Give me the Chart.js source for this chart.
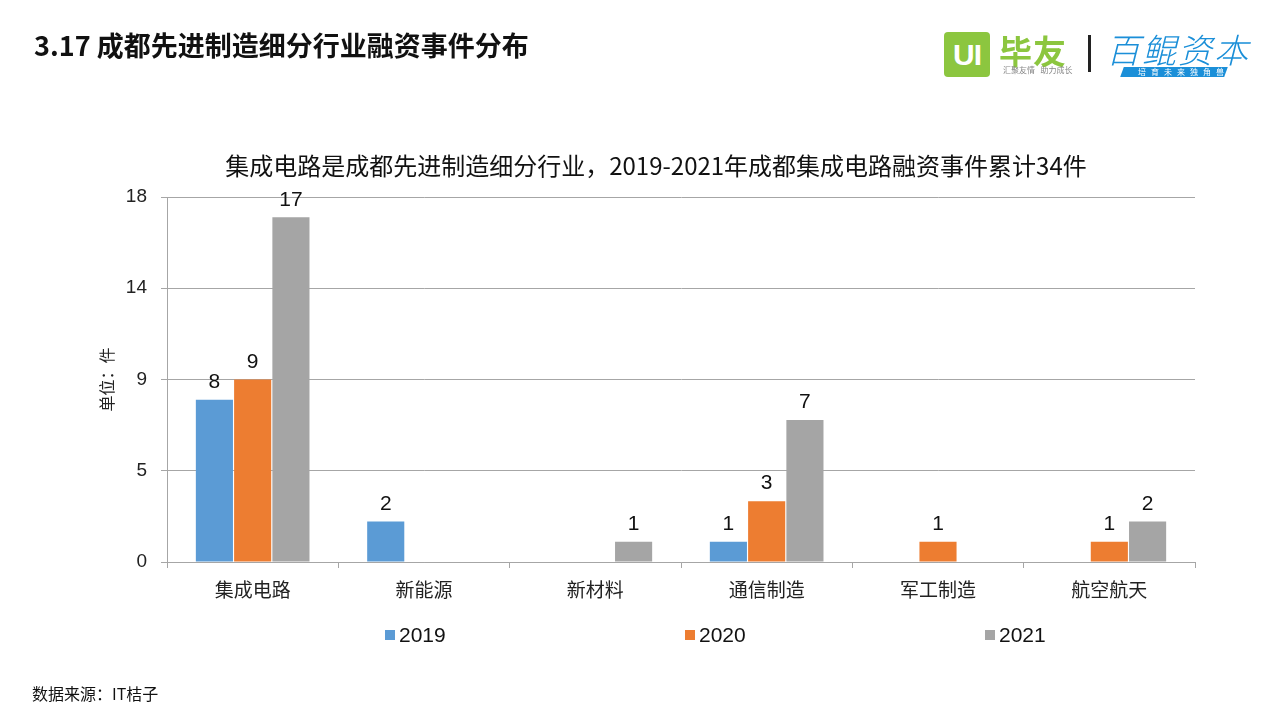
<!DOCTYPE html>
<html><head><meta charset="utf-8">
<script src="https://cdn.jsdelivr.net/npm/chart.js@4.4.1/dist/chart.umd.min.js"></script>
<style>
html,body{margin:0;padding:0;background:#fff;width:1280px;height:720px;overflow:hidden;}
#wrap{position:relative;width:1280px;height:720px;}
canvas{position:absolute;left:0;top:0;}
.t{position:absolute;white-space:nowrap;font-family:"Noto Sans CJK SC","Noto Sans",sans-serif;}
#pt{left:34px;top:25px;font-size:27px;font-weight:bold;color:#111;}
#st{left:656px;top:147px;transform:translateX(-50%);font-size:24px;color:#111;}
#src{left:32px;top:681px;font-size:16px;color:#111;}
</style></head>
<body><div id="wrap">
<canvas id="c" width="1280" height="720"></canvas>
<div class="t" id="pt">3.17 成都先进制造细分行业融资事件分布</div>
<div class="t" id="st">集成电路是成都先进制造细分行业，2019-2021年成都集成电路融资事件累计34件</div>
<div class="t" id="src">数据来源：IT桔子</div>
<!-- logos -->
<div style="position:absolute;left:944px;top:32px;width:46px;height:45px;background:#8cc63f;border-radius:4px;color:#fff;font:bold 30px 'Liberation Sans',sans-serif;text-align:center;line-height:45px;letter-spacing:-1px;">UI</div>
<div class="t" style="left:999px;top:26px;font-size:33px;font-weight:bold;color:#8cc63f;letter-spacing:1px;">毕友</div>
<div class="t" style="left:1003px;top:64px;font-size:8px;color:#888;">汇聚友情&nbsp;&nbsp;&nbsp;助力成长</div>
<div style="position:absolute;left:1088px;top:35px;width:3px;height:37px;background:#222;"></div>
<div class="t" style="left:1106px;top:24px;font-size:34px;color:#1b8fd8;font-style:italic;letter-spacing:2px;font-family:'Noto Sans CJK SC';font-weight:300;">百鲲资本</div>
<div style="position:absolute;left:1122px;top:67px;width:104px;height:10px;background:#1b8fd8;transform:skewX(-20deg);"></div>
<div class="t" style="left:1138px;top:66px;font-size:8px;line-height:12px;color:#fff;letter-spacing:5px;">培育未来独角兽</div>
</div>
<script>
const categories = ["集成电路","新能源","新材料","通信制造","军工制造","航空航天"];
const seriesNames = ["2019","2020","2021"];
const v2019 = [8,2,0,1,0,0];
const v2020 = [9,0,0,3,1,1];
const v2021 = [17,0,1,7,0,2];
const colors = ["#5B9BD5","#ED7D31","#A5A5A5"];
const yTicks = [0,4.5,9,13.5,18];

const gridColor = "#a6a6a6";
const valueLabels = {
  id:"valueLabels",
  afterDatasetsDraw(chart){
    const ctx = chart.ctx;
    ctx.save();
    ctx.font = "21px 'Liberation Sans', Arial, sans-serif";
    ctx.fillStyle = "#111";
    ctx.textAlign = "center";
    ctx.textBaseline = "bottom";
    chart.data.datasets.forEach((ds,i)=>{
      chart.getDatasetMeta(i).data.forEach((bar,j)=>{
        const v = ds.data[j];
        if (v>0) ctx.fillText(String(v), bar.x, bar.y-7);
      });
    });
    ctx.restore();
  }
};
const customLegend = {
  id:"customLegend",
  afterDraw(chart){
    const ctx = chart.ctx;
    ctx.save();
    ctx.font = "21px 'Liberation Sans', Arial, sans-serif";
    ctx.textBaseline = "middle";
    ctx.textAlign = "left";
    chart.data.datasets.forEach((ds,i)=>{
      const x = 385 + i*300, y = 635;
      ctx.fillStyle = ds.backgroundColor;
      ctx.fillRect(x, y-5, 10, 10);
      ctx.fillStyle = "#111";
      ctx.fillText(ds.label, x+14, y+1);
    });
    ctx.restore();
  }
};

new Chart(document.getElementById("c"), {
  type:"bar",
  data:{
    labels:categories,
    datasets:[
      {label:seriesNames[0], data:v2019, backgroundColor:colors[0]},
      {label:seriesNames[1], data:v2020, backgroundColor:colors[1]},
      {label:seriesNames[2], data:v2021, backgroundColor:colors[2]}
    ]
  },
  options:{
    responsive:false, animation:false, devicePixelRatio:1,
    layout:{padding:{left:0,right:85,top:197,bottom:98}},
    categoryPercentage:0.67, barPercentage:0.97,
    plugins:{legend:{display:false}, title:{display:false}, tooltip:{enabled:false}},
    scales:{
      x:{
        offset:true,
        grid:{display:true, drawOnChartArea:false, drawTicks:true, tickLength:6, color:gridColor, offset:true},
        border:{display:true, color:gridColor},
        ticks:{font:{family:"'Noto Sans CJK SC', sans-serif", size:19}, color:"#222", padding:10, maxRotation:0},
        afterFit(s){ s.height = 60; }
      },
      y:{
        min:0, max:18,
        afterBuildTicks(s){ s.ticks = yTicks.map(v=>({value:v})); },
        grid:{color:gridColor, tickLength:6, lineWidth:1},
        border:{display:true, color:gridColor},
        ticks:{font:{family:"'Liberation Sans', Arial, sans-serif", size:19}, color:"#222", padding:14,
          callback:(v)=>String(Math.round(v))},
        title:{display:true, text:"单位：件", font:{family:"'Noto Sans CJK SC', sans-serif", size:16}, color:"#222", padding:{top:97,bottom:0}},
        afterFit(s){ s.width = 167; }
      }
    }
  },
  plugins:[valueLabels, customLegend]
});
</script>
</body></html>
